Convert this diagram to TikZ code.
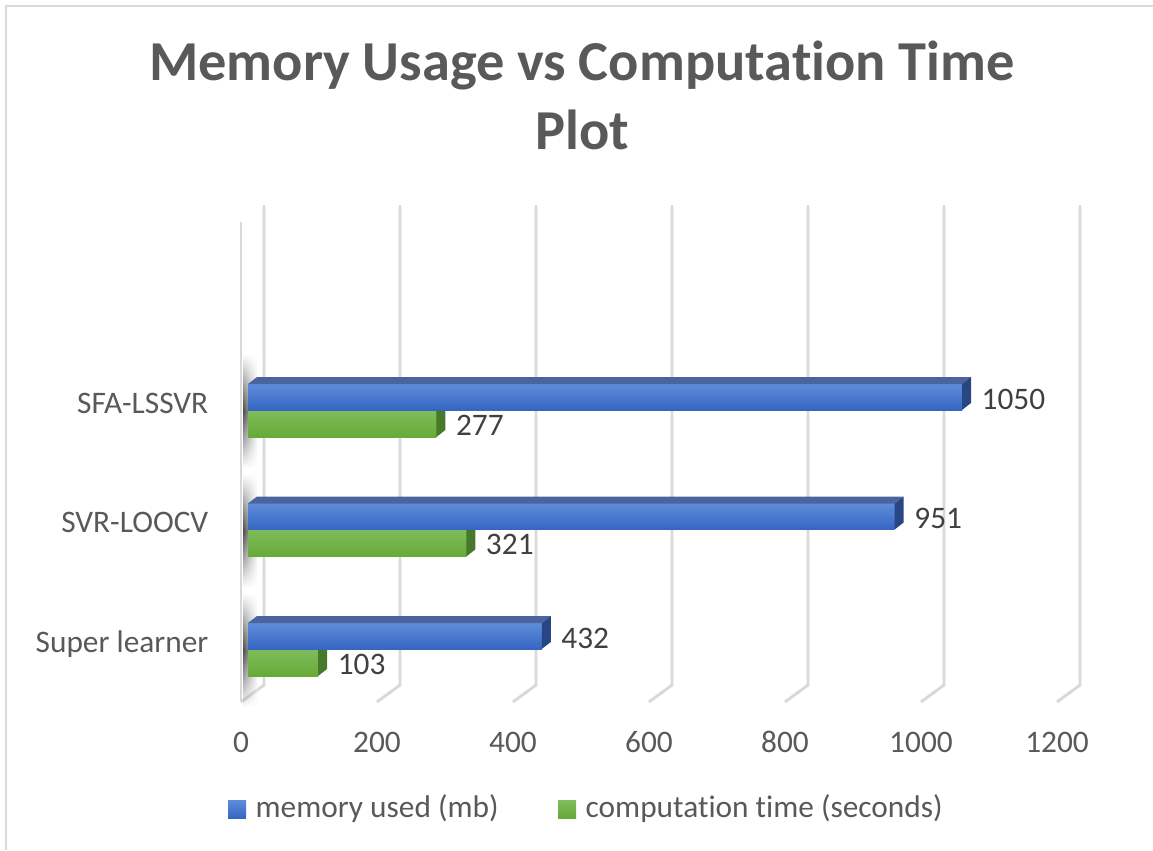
\documentclass[tikz,border=0pt]{standalone}
\usepackage{fontspec}
\setmainfont{Carlito}[Ligatures=NoCommon]
\usetikzlibrary{fadings}
\definecolor{gridgray}{RGB}{217,217,217}
\definecolor{textgray}{RGB}{89,89,89}
\definecolor{valgray}{RGB}{64,64,64}
\definecolor{memtop}{RGB}{96,140,218}
\definecolor{membot}{RGB}{52,102,194}
\definecolor{memlid}{RGB}{76,100,158}
\definecolor{memside}{RGB}{40,70,132}
\definecolor{cputop}{RGB}{128,188,92}
\definecolor{cpubot}{RGB}{102,170,56}
\definecolor{cpuside}{RGB}{72,120,42}
\tikzfading[name=fade vert, top color=transparent!100, bottom color=transparent!100, middle color=transparent!0]
\tikzset{
  gridline/.style={draw=gridgray, line width=2.2pt},
  catlabel/.style={anchor=base east, text=textgray, font=\fontsize{23.5}{28}\selectfont},
  ticklabel/.style={anchor=base, text=textgray, font=\fontsize{23.5}{28}\selectfont},
  vallabel/.style={anchor=base west, text=valgray, font=\fontsize{23.5}{28}\selectfont},
  legendtext/.style={anchor=west, text=textgray, font=\fontsize{23.5}{28}\selectfont}
}
\begin{document}
\begin{tikzpicture}[x=0.75pt, y=-0.75pt]
\useasboundingbox (0,0) rectangle (1153,850);
% chart frame
\draw[gridgray, line width=1.5pt] (6,850) -- (6,6) -- (1153,6);
% title
\node[text=textgray, font=\bfseries\fontsize{42.3}{51}\selectfont, anchor=base] (title1) at (582,80) {Memory Usage vs Computation Time};
\node[text=textgray, font=\bfseries\fontsize{42.3}{51}\selectfont, anchor=base] (title2) at (582,149) {Plot};
% wall and gridlines
\draw[gridline] (241,222) -- (241,702);
\foreach \k in {0,...,6}{
  \draw[gridline] (264+136*\k,205) -- (264+136*\k,685) -- (241+136*\k,702);
  \pgfmathtruncatemacro\tick{200*\k}
  \node[ticklabel] (tick\k) at (241+136*\k,752) {\tick};
}
% bars
\foreach \g/\mem/\cpu/\name [count=\i] in {384/1050/277/SFA-LSSVR, 503.5/951/321/SVR-LOOCV, 623/432/103/Super learner}{
  \shade[left color=black!70, right color=white, path fading=fade vert] (243,\g-30) rectangle (258,\g+84);
  \pgfmathsetmacro\xm{248+0.68*\mem}
  \pgfmathsetmacro\xc{248+0.68*\cpu}
  % computation time
  \shade[top color=cputop, bottom color=cpubot] (248,\g+26) rectangle (\xc,\g+53);
  \fill[cpuside] (\xc,\g+26) -- (\xc+9,\g+19) -- (\xc+9,\g+46) -- (\xc,\g+53) -- cycle;
  % memory used
  \shade[top color=memtop, bottom color=membot] (248,\g) rectangle (\xm,\g+26);
  \fill[memlid] (248,\g) -- (257,\g-7) -- (\xm+9,\g-7) -- (\xm,\g) -- cycle;
  \fill[memside] (\xm,\g) -- (\xm+9,\g-7) -- (\xm+9,\g+19) -- (\xm,\g+26) -- cycle;
  \node[vallabel] (mem\i) at (\xm+15,\g+25) {\mem};
  \node[vallabel] (cpu\i) at (\xc+15,\g+51) {\cpu};
  \node[catlabel] (cat\i) at (213,\g+29) {\name};
}
% legend
\shade[top color=memtop, bottom color=membot] (228,800) rectangle (246,818);
\node[legendtext] (legmem) at (251,809) {memory used (mb)};
\shade[top color=cputop, bottom color=cpubot] (558,800) rectangle (576,818);
\node[legendtext] (legcpu) at (581,809) {computation time (seconds)};
\end{tikzpicture}
\end{document}
